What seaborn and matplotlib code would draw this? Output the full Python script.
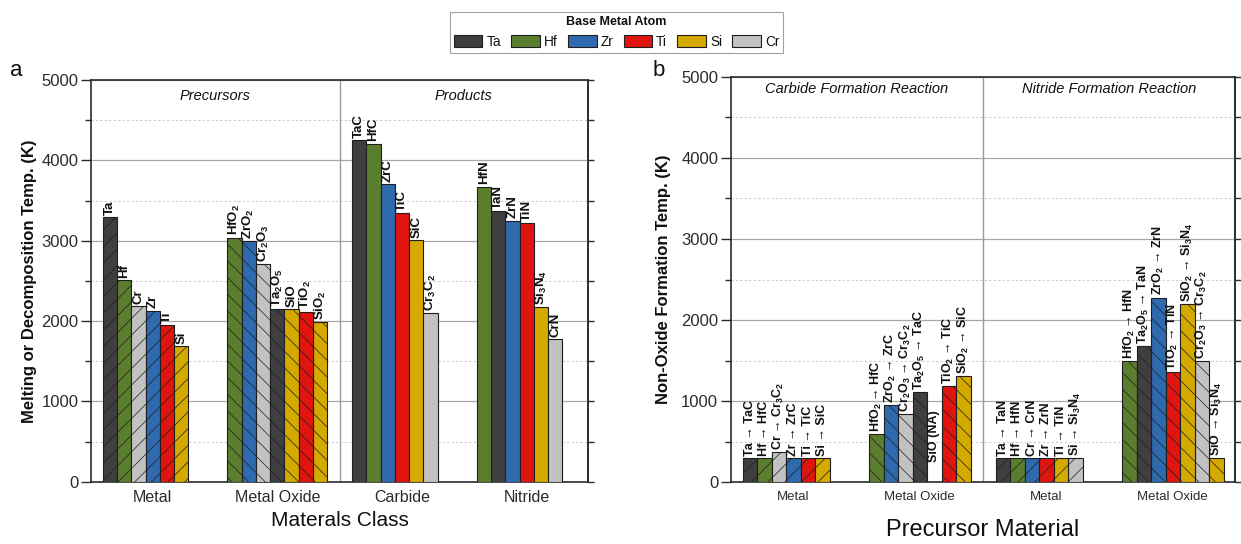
import numpy as np
import pandas as pd
import matplotlib
matplotlib.use("Agg")
import matplotlib.pyplot as plt
from matplotlib.patches import Patch
from matplotlib.ticker import MultipleLocator
import seaborn as sns

# ---- base-metal colour key ---------------------------------------------------
metal_order = ["Ta", "Hf", "Zr", "Ti", "Si", "Cr"]
metal_colors = {"Ta": "#3f3f3f", "Hf": "#5a7d2e", "Zr": "#2f6aae",
                "Ti": "#e0150f", "Si": "#d4a900", "Cr": "#c2c2c2"}

# ---- panel a: melting / decomposition temperature (K) -----------------------
class_names = ["Metal", "Metal Oxide", "Carbide", "Nitride"]

metal_labels = ["Ta", "Hf", "Cr", "Zr", "Ti", "Si"]
metal_keys = ["Ta", "Hf", "Cr", "Zr", "Ti", "Si"]
metal_temps = [3290, 2510, 2185, 2130, 1950, 1690]

oxide_labels = ["HfO$_2$", "ZrO$_2$", "Cr$_2$O$_3$", "Ta$_2$O$_5$", "SiO",
                "TiO$_2$", "SiO$_2$"]
oxide_keys = ["Hf", "Zr", "Cr", "Ta", "Si", "Ti", "Si"]
oxide_temps = [3035, 2995, 2710, 2148, 2148, 2118, 1986]

carbide_labels = ["TaC", "HfC", "ZrC", "TiC", "SiC", "Cr$_3$C$_2$"]
carbide_keys = ["Ta", "Hf", "Zr", "Ti", "Si", "Cr"]
carbide_temps = [4250, 4205, 3700, 3340, 3005, 2095]

nitride_labels = ["HfN", "TaN", "ZrN", "TiN", "Si$_3$N$_4$", "CrN"]
nitride_keys = ["Hf", "Ta", "Zr", "Ti", "Si", "Cr"]
nitride_temps = [3670, 3365, 3250, 3220, 2175, 1775]

# ---- panel b: non-oxide formation temperature (K) ---------------------------
precursor_names = ["Metal", "Metal Oxide", "Metal", "Metal Oxide"]

m_carb_labels = ["Ta → TaC", "Hf → HfC", "Cr → Cr$_3$C$_2$", "Zr → ZrC",
                 "Ti → TiC", "Si → SiC"]
m_carb_keys = ["Ta", "Hf", "Cr", "Zr", "Ti", "Si"]
m_carb_temps = [298, 298, 370, 298, 298, 298]

mo_carb_labels = ["HfO$_2$ → HfC", "ZrO$_2$ → ZrC", "Cr$_2$O$_3$ → Cr$_3$C$_2$",
                  "Ta$_2$O$_5$ → TaC", "SiO (NA)", "TiO$_2$ → TiC",
                  "SiO$_2$ → SiC"]
mo_carb_keys = ["Hf", "Zr", "Cr", "Ta", "Si", "Ti", "Si"]
mo_carb_temps = [590, 950, 840, 1110, np.nan, 1185, 1305]

m_nit_labels = ["Ta → TaN", "Hf → HfN", "Cr → CrN", "Zr → ZrN", "Ti → TiN",
                "Si → Si$_3$N$_4$"]
m_nit_keys = ["Ta", "Hf", "Zr", "Ti", "Si", "Cr"]
m_nit_temps = [298, 298, 298, 298, 298, 298]

mo_nit_labels = ["HfO$_2$ → HfN", "Ta$_2$O$_5$ → TaN", "ZrO$_2$ → ZrN",
                 "TiO$_2$ → TiN", "SiO$_2$ → Si$_3$N$_4$",
                 "Cr$_2$O$_3$ → Cr$_3$C$_2$", "SiO → Si$_3$N$_4$"]
mo_nit_keys = ["Hf", "Ta", "Zr", "Ti", "Si", "Cr", "Si"]
mo_nit_temps = [1495, 1680, 2275, 1360, 2195, 1495, 298]

# ---- styling ----------------------------------------------------------------
sns.set_theme(style="ticks")
plt.rcParams["font.family"] = ["Liberation Sans", "DejaVu Sans"]
plt.rcParams.update({
    "mathtext.fontset": "custom",
    "mathtext.rm": "Liberation Sans:bold",
    "mathtext.bf": "Liberation Sans:bold",
    "mathtext.it": "Liberation Sans:italic:bold",
    "mathtext.default": "bf",
    "hatch.color": "#2a2a2a",
    "hatch.linewidth": 0.5,
    "axes.edgecolor": "#2b2b2b",
    "axes.linewidth": 1.2,
    "xtick.color": "#2b2b2b",
    "ytick.color": "#2b2b2b",
    "text.color": "#111111",
    "axes.labelcolor": "#111111",
})

EDGE = "#1e1e1e"
GROUP_STEP = 8.73
FIRST_START = 0.82
XMAX = 34.8
NA_LABEL_Y = 215


def build_frame(groups):
    rows = []
    for k, (labels, keys, temps, hatch) in enumerate(groups):
        start = FIRST_START + k * GROUP_STEP
        for i, (lab, key, t) in enumerate(zip(labels, keys, temps)):
            rows.append({"pos": start + i + 0.5, "temp": t, "metal": key,
                         "label": lab, "hatch": hatch})
    return pd.DataFrame(rows)


def draw_panel(ax, df, label_size):
    for hatch, sub in df.dropna(subset=["temp"]).groupby("hatch", sort=False):
        sns.barplot(data=sub, x="pos", y="temp", hue="metal",
                    palette=metal_colors, native_scale=True, dodge=False,
                    width=1.0, errorbar=None, saturation=1, legend=False,
                    hatch=hatch if hatch else None, edgecolor=EDGE,
                    linewidth=0.8, zorder=3, ax=ax)
    for _, r in df.iterrows():
        y = r.temp if np.isfinite(r.temp) else NA_LABEL_Y
        ax.text(r.pos, y + 30, r.label, rotation=90, ha="center",
                va="bottom", fontsize=label_size, fontweight="bold",
                zorder=4)


def style_axes(ax, tick_names, tick_size):
    ax.set_xlim(0, XMAX)
    ax.set_ylim(0, 5000)
    centers = [FIRST_START + k * GROUP_STEP + 3.5 for k in range(4)]
    ax.set_xticks(centers)
    ax.set_xticklabels(tick_names, fontsize=tick_size)
    ax.yaxis.set_major_locator(MultipleLocator(1000))
    ax.yaxis.set_minor_locator(MultipleLocator(500))
    ax.set_axisbelow(True)
    ax.grid(axis="y", which="major", color="#a8a8a8", lw=0.9, ls="-")
    ax.grid(axis="y", which="minor", color="#cdcdcd", lw=0.8,
            ls=(0, (2, 2)))
    ax.tick_params(axis="y", which="major", direction="out", length=7,
                   width=1.0, labelsize=12, pad=2)
    ax.tick_params(axis="y", which="minor", direction="out", length=4,
                   width=1.0)
    ax.tick_params(axis="x", length=0, pad=6)
    for sp in ax.spines.values():
        sp.set_visible(True)
        sp.set_color("#2b2b2b")
        sp.set_linewidth(1.2)
    sec = ax.secondary_yaxis("right")
    sec.yaxis.set_major_locator(MultipleLocator(500))
    sec.tick_params(axis="y", direction="out", length=4, width=1.0,
                    labelright=False)
    sec.spines["right"].set_color("#2b2b2b")
    sec.spines["right"].set_linewidth(1.2)
    divider = FIRST_START + GROUP_STEP + 7 + (GROUP_STEP - 7) / 2
    ax.axvline(divider, color="#9a9a9a", lw=1.0, zorder=1)
    return divider


fig = plt.figure(figsize=(12.41, 5.44), dpi=100)
ax_a = fig.add_axes([0.0733, 0.1145, 0.4005, 0.7384])
ax_b = fig.add_axes([0.5888, 0.1134, 0.4064, 0.7456])

# panel a
df_a = build_frame([
    (metal_labels, metal_keys, metal_temps, "//"),
    (oxide_labels, oxide_keys, oxide_temps, "\\\\"),
    (carbide_labels, carbide_keys, carbide_temps, ""),
    (nitride_labels, nitride_keys, nitride_temps, ""),
])
draw_panel(ax_a, df_a, 9.5)
div_a = style_axes(ax_a, class_names, 11.5)
ax_a.set_xlabel("Materals Class", fontsize=15, labelpad=4)
ax_a.set_ylabel("Melting or Decomposition Temp. (K)", fontsize=12,
                fontweight="bold", labelpad=3)
ax_a.text(div_a / 2, 4800, "Precursors", style="italic", ha="center",
          va="center", fontsize=10.5)
ax_a.text((div_a + XMAX) / 2, 4800, "Products", style="italic",
          ha="center", va="center", fontsize=10.5)

# panel b
df_b = build_frame([
    (m_carb_labels, m_carb_keys, m_carb_temps, "//"),
    (mo_carb_labels, mo_carb_keys, mo_carb_temps, "\\\\"),
    (m_nit_labels, m_nit_keys, m_nit_temps, "//"),
    (mo_nit_labels, mo_nit_keys, mo_nit_temps, "\\\\"),
])
draw_panel(ax_b, df_b, 9)
div_b = style_axes(ax_b, precursor_names, 9.5)
ax_b.set_xlabel("Precursor Material", fontsize=17, labelpad=12)
ax_b.set_ylabel("Non-Oxide Formation Temp. (K)", fontsize=12,
                fontweight="bold", labelpad=7)
ax_b.text(div_b / 2, 4850, "Carbide Formation Reaction", style="italic",
          ha="center", va="center", fontsize=10.5)
ax_b.text((div_b + XMAX) / 2, 4850, "Nitride Formation Reaction",
          style="italic", ha="center", va="center", fontsize=10.5)

# panel letters
fig.text(0.008, 0.852, "a", fontsize=16, va="bottom")
fig.text(0.526, 0.852, "b", fontsize=16, va="bottom")

# shared legend
handles = [Patch(facecolor=metal_colors[m], edgecolor=EDGE, linewidth=0.8)
           for m in metal_order]
leg = fig.legend(handles, metal_order, loc="upper center",
                 bbox_to_anchor=(0.4968, 0.991), ncol=6,
                 title="Base Metal Atom",
                 title_fontproperties={"weight": "bold", "size": 9},
                 fontsize=9.8, frameon=True, fancybox=False,
                 edgecolor="#8a8a8a", handlelength=2.1, handleheight=1.0,
                 handletextpad=0.3, columnspacing=0.75, borderpad=0.3)
leg.get_frame().set_linewidth(0.8)

fig.savefig("out.png", dpi=100)
